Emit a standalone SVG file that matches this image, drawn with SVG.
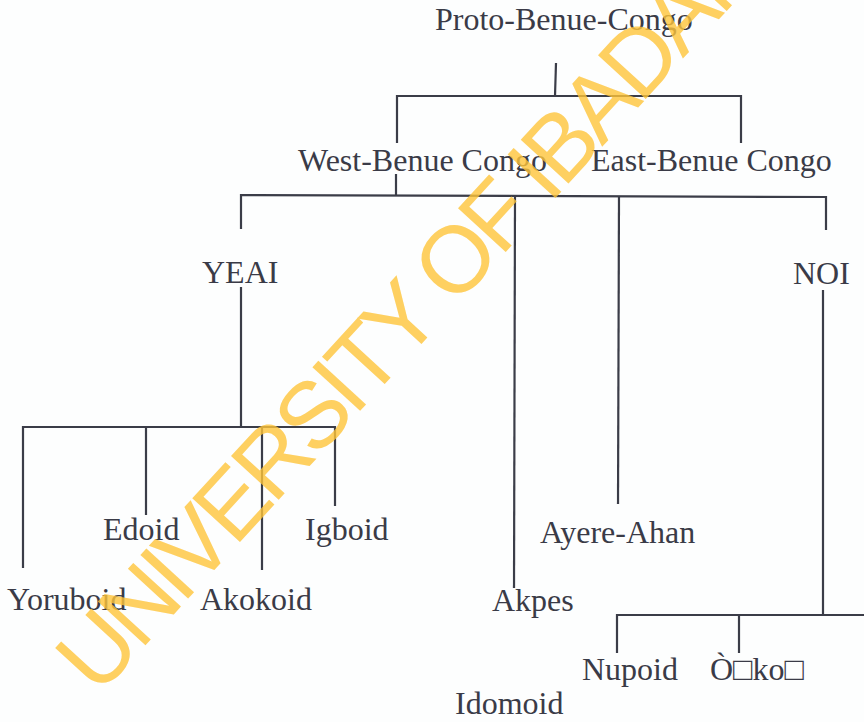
<svg xmlns="http://www.w3.org/2000/svg" width="864" height="722" viewBox="0 0 864 722">
<style>
.lbl{font-family:"Liberation Serif","Times New Roman",serif;font-size:32px;fill:#3a3b47}
.ln{stroke:#3b3d48;stroke-width:2.2;fill:none;stroke-linecap:butt}
.wm{font-family:"Liberation Sans",Arial,sans-serif;font-size:94px;fill:#FFC53A;opacity:0.8;letter-spacing:-5.5px}
</style>
<rect width="864" height="722" fill="#fdfefe"/>
<g id="connectors" class="ln">
<path d="M556 63 L555 96"/>
<path d="M397 143 L397 96 L741 96 L741 143"/>
<path d="M396 174 L396 195"/>
<path d="M241 229 L241 195 L826 197 L826 230"/>
<path d="M515 196 L514 588"/>
<path d="M619 196 L618 504"/>
<path d="M241 287 L241 427"/>
<path d="M23 568 L23 427 L335 427 L335 506"/>
<path d="M146 427 L146 515"/>
<path d="M262 427 L262 570"/>
<path d="M823 290 L823 615"/>
<path d="M617 653 L617 615 L864 615"/>
<path d="M739 615 L739 653"/>
</g>
<g id="proto"><text class="lbl" x="435" y="30">Proto-Benue-Congo</text></g>
<g id="west"><text class="lbl" x="298" y="171">West-Benue Congo</text></g>
<g id="east"><text class="lbl" x="591" y="171">East-Benue Congo</text></g>
<g id="yeai"><text class="lbl" x="202" y="283">YEAI</text></g>
<g id="noi"><text class="lbl" x="793" y="284">NOI</text></g>
<g id="edoid"><text class="lbl" x="103" y="540">Edoid</text></g>
<g id="igboid"><text class="lbl" x="305" y="540">Igboid</text></g>
<g id="yoruboid"><text class="lbl" x="7" y="610">Yoruboid</text></g>
<g id="akokoid"><text class="lbl" x="200" y="610">Akokoid</text></g>
<g id="akpes"><text class="lbl" x="492" y="611">Akpes</text></g>
<g id="ayere"><text class="lbl" x="540" y="543">Ayere-Ahan</text></g>
<g id="nupoid"><text class="lbl" x="582" y="680">Nupoid</text></g>
<g id="oko"><text class="lbl" x="710" y="680">Ò□ko□</text></g>
<g id="idomoid"><text class="lbl" x="455" y="714">Idomoid</text></g>
<g id="watermark"><text class="wm" transform="translate(98,697) rotate(-47.5)">UNIVERSITY OF IBADAN L</text></g>
</svg>
